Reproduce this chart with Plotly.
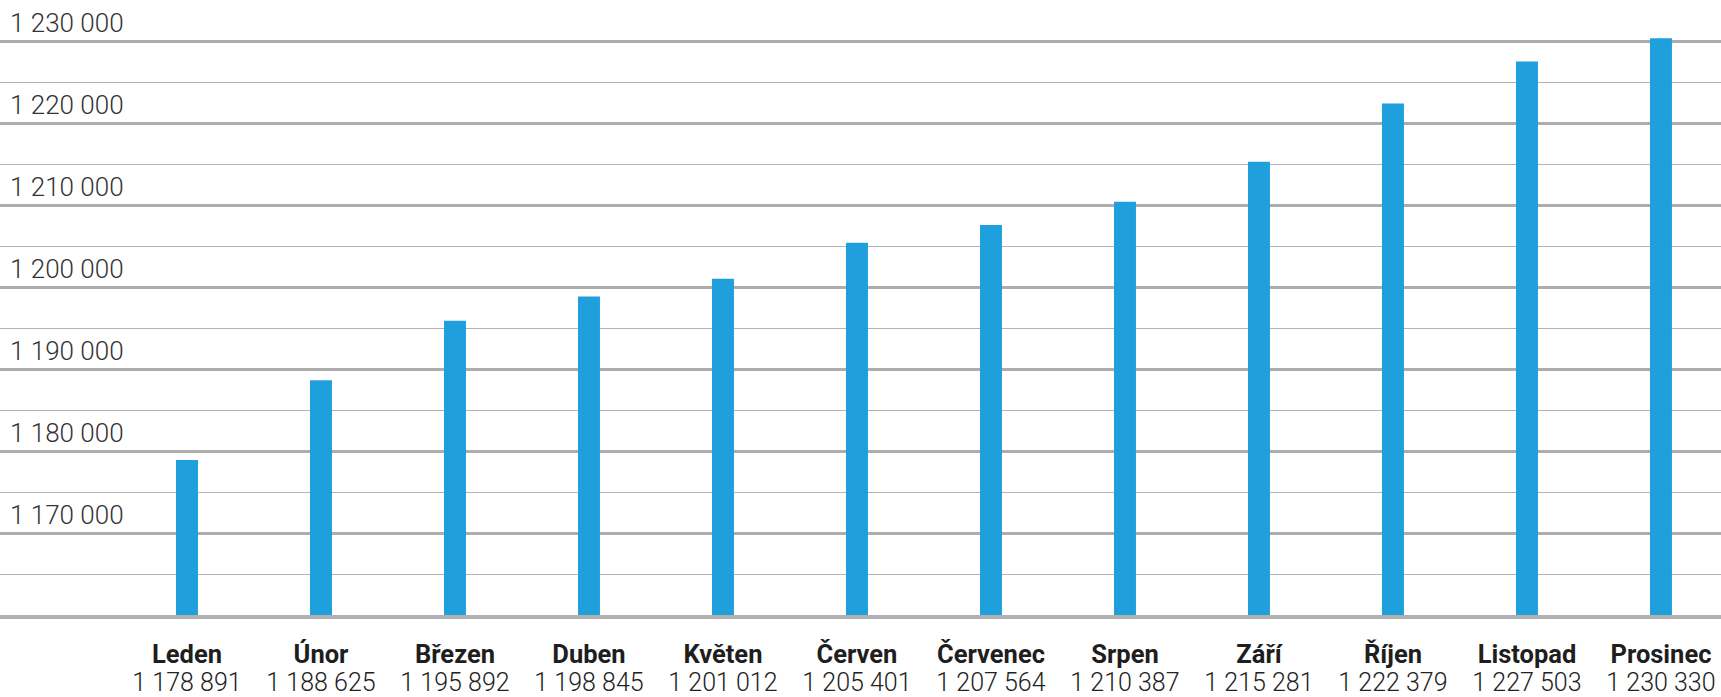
import plotly.graph_objects as go

months = ["Leden", "Únor", "Březen", "Duben", "Květen", "Červen", "Červenec",
          "Srpen", "Září", "Říjen", "Listopad", "Prosinec"]
values = [1178891, 1188625, 1195892, 1198845, 1201012, 1205401, 1207564,
          1210387, 1215281, 1222379, 1227503, 1230330]
major_ticks = [1170000, 1180000, 1190000, 1200000, 1210000, 1220000, 1230000]
minor_ticks = [1165000, 1175000, 1185000, 1195000, 1205000, 1215000, 1225000]


def fmt(v):
    return f"{v:,}".replace(",", " ")


fig = go.Figure()
fig.add_trace(
    go.Bar(
        x=months,
        y=values,
        width=0.164,
        marker=dict(color="#1FA0DD", line=dict(width=0)),
        hoverinfo="skip",
    )
)
# invisible helper trace so the second (value-label) x axis knows the categories
fig.add_trace(
    go.Scatter(x=months, y=values, xaxis="x2", yaxis="y", mode="none",
               hoverinfo="skip", showlegend=False)
)

XRANGE = [-1.3955, 11.448]

fig.update_layout(
    width=1721,
    height=697,
    margin=dict(l=0, r=0, t=0, b=82),
    paper_bgcolor="white",
    plot_bgcolor="white",
    separators=", ",
    showlegend=False,
    font=dict(family="Roboto", color="#2a2a2a"),
    xaxis=dict(
        type="category",
        range=XRANGE,
        tickvals=months,
        ticktext=months,
        tickfont=dict(family="Roboto", size=25.5, color="#1e1e1e", weight=700),
        ticklabelstandoff=13,
        automargin=False,
        showgrid=False,
        showline=True,
        linecolor="#b0b0b0",
        linewidth=4,
        ticks="",
        layer="below traces",
        fixedrange=True,
    ),
    xaxis2=dict(
        type="category",
        overlaying="x",
        side="bottom",
        anchor="y",
        range=XRANGE,
        tickvals=months,
        ticktext=[fmt(v) for v in values],
        tickfont=dict(family="Roboto", size=25, color="#222222", weight=300),
        ticklabelstandoff=50,
        automargin=False,
        showgrid=False,
        showline=False,
        ticks="",
        layer="below traces",
        fixedrange=True,
    ),
    yaxis=dict(
        range=[1160000, 1235000],
        tickvals=major_ticks,
        ticktext=[fmt(v) for v in major_ticks],
        ticklabelposition="inside top",
        ticklabelstandoff=7,
        tickfont=dict(family="Roboto", size=26, color="#333333", weight=300),
        automargin=False,
        showgrid=True,
        gridcolor="#adadad",
        gridwidth=2.5,
        zeroline=False,
        showline=False,
        ticks="",
        minor=dict(tickvals=minor_ticks, showgrid=True, gridcolor="#b3b3b3", gridwidth=1),
        layer="below traces",
        fixedrange=True,
    ),
)

fig.write_html("out.html")
